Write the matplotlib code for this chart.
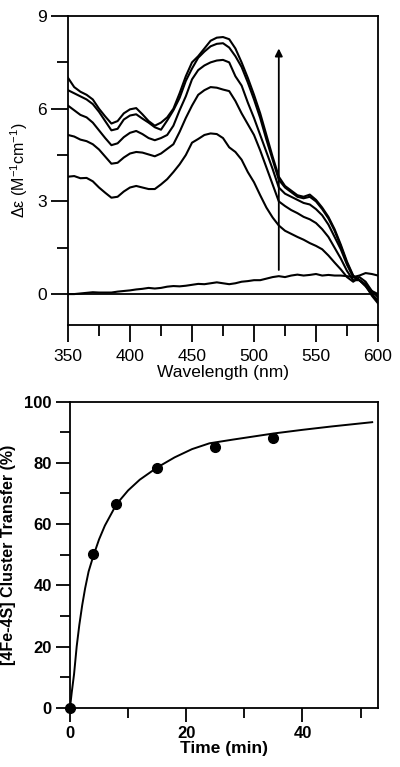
import matplotlib
matplotlib.use("Agg")
import matplotlib.pyplot as plt
from matplotlib.ticker import MultipleLocator

OUT_PATH = "out.png"

# --- top panel: CD difference spectra ---
wavelength = [350, 355, 360, 365, 370, 375, 380, 385, 390, 395,
              400, 405, 410, 415, 420, 425, 430, 435, 440, 445,
              450, 455, 460, 465, 470, 475, 480, 485, 490, 495,
              500, 505, 510, 515, 520, 525, 530, 535, 540, 545,
              550, 555, 560, 565, 570, 575, 580, 585, 590, 595, 600]

trace_1 = [7.0, 6.7, 6.55, 6.45, 6.3, 6.0, 5.75, 5.52, 5.6, 5.85,
           5.98, 6.02, 5.82, 5.6, 5.45, 5.55, 5.72, 6.0, 6.5, 7.05,
           7.5, 7.7, 7.95, 8.2, 8.3, 8.32, 8.25, 7.95, 7.5, 7.0,
           6.45, 5.85, 5.15, 4.45, 3.8, 3.5, 3.35, 3.2, 3.15, 3.22,
           3.05, 2.8, 2.5, 2.1, 1.6, 1.05, 0.6, 0.45, 0.3, 0.0, -0.25]
trace_2 = [6.6, 6.5, 6.4, 6.3, 6.15, 5.9, 5.6, 5.3, 5.35, 5.65,
           5.78, 5.82, 5.68, 5.55, 5.4, 5.32, 5.62, 5.95, 6.35, 6.9,
           7.3, 7.65, 7.85, 8.02, 8.1, 8.12, 7.98, 7.7, 7.35, 6.85,
           6.3, 5.7, 5.0, 4.35, 3.7, 3.45, 3.3, 3.15, 3.1, 3.15,
           3.0, 2.75, 2.45, 2.05, 1.55, 1.0, 0.58, 0.45, 0.28, -0.05, -0.3]
trace_3 = [6.1, 5.95, 5.8, 5.72, 5.55, 5.3, 5.05, 4.82, 4.88, 5.08,
           5.22, 5.28, 5.18, 5.05, 4.98, 5.05, 5.15, 5.45, 5.95, 6.4,
           6.95, 7.25, 7.4, 7.5, 7.56, 7.58, 7.5, 7.05, 6.75, 6.2,
           5.7, 5.15, 4.6, 4.05, 3.45, 3.25, 3.15, 3.05, 2.95, 2.9,
           2.75, 2.55, 2.25, 1.85, 1.45, 0.95, 0.55, 0.45, 0.25, 0.0, -0.2]
trace_4 = [5.15, 5.1, 5.0, 4.95, 4.85, 4.68, 4.45, 4.22, 4.25, 4.42,
           4.55, 4.6, 4.58, 4.52, 4.46, 4.55, 4.7, 4.85, 5.25, 5.7,
           6.1, 6.45, 6.6, 6.7, 6.68, 6.62, 6.57, 6.25, 5.85, 5.5,
           5.15, 4.65, 4.1, 3.55, 3.0, 2.85, 2.72, 2.62, 2.5, 2.42,
           2.3, 2.1, 1.85, 1.5, 1.15, 0.75, 0.45, 0.45, 0.32, 0.1, -0.1]
trace_5 = [3.8, 3.82, 3.75, 3.76, 3.65, 3.45, 3.28, 3.12, 3.15, 3.32,
           3.45, 3.5, 3.45, 3.4, 3.4, 3.55, 3.72, 3.95, 4.2, 4.5,
           4.9, 5.02, 5.15, 5.2, 5.18, 5.05, 4.75, 4.6, 4.35, 3.95,
           3.62, 3.2, 2.8, 2.48, 2.22, 2.05, 1.95, 1.85, 1.76, 1.65,
           1.56, 1.45, 1.25, 1.02, 0.8, 0.55, 0.4, 0.55, 0.4, 0.1, 0.0]
baseline = [0.0, 0.0, 0.02, 0.04, 0.06, 0.05, 0.05, 0.05, 0.08, 0.1,
            0.12, 0.15, 0.17, 0.2, 0.18, 0.2, 0.24, 0.26, 0.25, 0.27,
            0.3, 0.33, 0.32, 0.35, 0.38, 0.35, 0.32, 0.35, 0.4, 0.42,
            0.45, 0.45, 0.5, 0.55, 0.58, 0.55, 0.6, 0.63, 0.6, 0.62,
            0.65, 0.6, 0.62, 0.6, 0.6, 0.58, 0.55, 0.6, 0.68, 0.65, 0.6]

# --- bottom panel: cluster transfer kinetics ---
time_points = [0, 4, 8, 15, 25, 35]
transfer_pct = [0, 50.2, 66.6, 78.4, 85.2, 88.2]

fit_time = [0, 0.3, 0.7, 1.15, 1.6, 2.1, 2.6, 3.2, 4, 5, 6, 8,
            10, 12, 15, 18, 21, 24, 28, 35, 40, 45, 52]
fit_pct = [0, 5, 11, 20, 27, 33.5, 39, 44.5, 49.5, 55, 59.5, 66.5,
           71, 74.5, 78.5, 81.8, 84.5, 86.4, 87.6, 89.6, 90.8, 91.9, 93.3]


def style_ticks(ax, major_len, minor_len):
    ax.tick_params(which="major", direction="out", length=major_len, width=1.3)
    ax.tick_params(which="minor", direction="out", length=minor_len, width=1.3)
    for spine in ax.spines.values():
        spine.set_linewidth(1.3)


def main():
    plt.rcParams["font.family"] = ["Liberation Sans", "DejaVu Sans"]
    plt.rcParams["mathtext.fontset"] = "custom"
    plt.rcParams["mathtext.rm"] = "Liberation Sans"
    plt.rcParams["mathtext.it"] = "Liberation Sans:italic"
    plt.rcParams["mathtext.bf"] = "Liberation Sans:bold"

    fig = plt.figure(figsize=(4.0, 7.67), dpi=100)
    ax1 = fig.add_axes([0.17, 0.5763, 0.775, 0.4028])
    ax2 = fig.add_axes([0.175, 0.0773, 0.77, 0.399])

    # Top: spectra
    for trace in [trace_1, trace_2, trace_3, trace_4, trace_5, baseline]:
        ax1.plot(wavelength, trace, color="black", lw=1.5)
    ax1.axhline(0, color="black", lw=1.3)
    ax1.annotate("", xy=(520, 7.95), xytext=(520, 0.78),
                 arrowprops=dict(arrowstyle="-|>", color="black", lw=1.3,
                                 mutation_scale=11, shrinkA=0, shrinkB=0))

    ax1.set_xlim(350, 600)
    ax1.set_ylim(-1, 9)
    ax1.xaxis.set_major_locator(MultipleLocator(50))
    ax1.xaxis.set_minor_locator(MultipleLocator(25))
    ax1.yaxis.set_major_locator(MultipleLocator(3))
    ax1.yaxis.set_minor_locator(MultipleLocator(1.5))
    style_ticks(ax1, 12, 8)
    ax1.tick_params(axis="x", labelsize=12.5, pad=5)
    ax1.tick_params(axis="y", labelsize=12.5, pad=3)
    ax1.set_xlabel("Wavelength (nm)", fontsize=12.5, labelpad=1)
    ax1.set_ylabel(r"Δε (M$^{-1}$cm$^{-1}$)", fontsize=11.5, labelpad=5)

    # Bottom: kinetics
    ax2.plot(fit_time, fit_pct, color="black", lw=1.4)
    ax2.plot(time_points, transfer_pct, "o", color="black", ms=7, clip_on=False,
             zorder=5)
    ax2.set_xlim(0, 53)
    ax2.set_ylim(0, 100)
    ax2.xaxis.set_major_locator(MultipleLocator(20))
    ax2.xaxis.set_minor_locator(MultipleLocator(10))
    ax2.yaxis.set_major_locator(MultipleLocator(20))
    ax2.yaxis.set_minor_locator(MultipleLocator(10))
    style_ticks(ax2, 10, 7)
    ax2.tick_params(labelsize=12, pad=3)
    for lbl in ax2.get_xticklabels() + ax2.get_yticklabels():
        lbl.set_fontweight("bold")
    ax2.set_xlabel("Time (min)", fontsize=12.5, fontweight="bold", labelpad=0)
    ax2.set_ylabel("[4Fe-4S] Cluster Transfer (%)", fontsize=11.5,
                   fontweight="bold", labelpad=6)

    fig.savefig(OUT_PATH, dpi=100)
    plt.close(fig)


if __name__ == "__main__":
    main()
